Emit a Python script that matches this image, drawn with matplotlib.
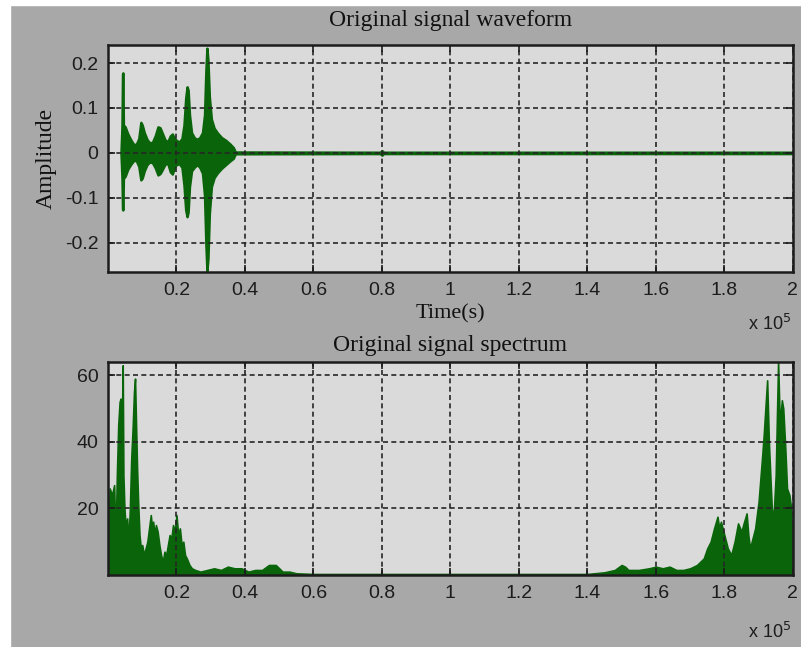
import matplotlib
matplotlib.use('Agg')
from matplotlib import pyplot as plt
from matplotlib.patches import Rectangle

# waveform envelope (time in units of 1e5 samples)
wave_t = [0.038, 0.041, 0.0425, 0.0435, 0.045, 0.050, 0.058, 0.066, 0.074, 0.082,
          0.090, 0.096, 0.100, 0.106, 0.114, 0.122, 0.130, 0.138, 0.146, 0.152,
          0.158, 0.166, 0.174, 0.182, 0.188, 0.194, 0.200, 0.208, 0.216, 0.222,
          0.227, 0.231, 0.234, 0.238, 0.244, 0.252, 0.260, 0.268, 0.276, 0.282,
          0.286, 0.289, 0.292, 0.296, 0.302, 0.310, 0.320, 0.332, 0.344, 0.356,
          0.366, 0.372, 0.795, 0.800, 0.805, 2.000]
wave_hi = [0.0, 0.062, 0.175, 0.178, 0.062, 0.058, 0.042, 0.030, 0.020, 0.018,
           0.032, 0.068, 0.062, 0.045, 0.030, 0.022, 0.024, 0.038, 0.058, 0.056,
           0.045, 0.030, 0.024, 0.038, 0.042, 0.032, 0.028, 0.024, 0.032, 0.062,
           0.122, 0.147, 0.140, 0.085, 0.045, 0.034, 0.030, 0.034, 0.045, 0.085,
           0.185, 0.233, 0.205, 0.125, 0.075, 0.055, 0.044, 0.034, 0.028, 0.020,
           0.012, 0.002, 0.0015, 0.005, 0.0015, 0.0015]
wave_lo = [0.0, -0.057, -0.125, -0.127, -0.057, -0.052, -0.036, -0.026, -0.018, -0.016,
           -0.030, -0.060, -0.056, -0.040, -0.026, -0.020, -0.022, -0.033, -0.049, -0.046,
           -0.038, -0.026, -0.022, -0.042, -0.047, -0.032, -0.026, -0.024, -0.032, -0.072,
           -0.127, -0.142, -0.132, -0.075, -0.040, -0.032, -0.026, -0.032, -0.045, -0.095,
           -0.205, -0.262, -0.235, -0.135, -0.075, -0.055, -0.044, -0.034, -0.026, -0.018,
           -0.012, -0.002, -0.0015, -0.005, -0.0015, -0.0015]

# spectrum magnitude, low end and mirrored high end
spec_lo_f = [0.000, 0.005, 0.012, 0.018, 0.022, 0.026, 0.030, 0.034, 0.037, 0.040,
             0.043, 0.045, 0.048, 0.052, 0.056, 0.060, 0.064, 0.068, 0.072, 0.076,
             0.079, 0.082, 0.085, 0.088, 0.092, 0.096, 0.100, 0.105, 0.110, 0.115,
             0.120, 0.125, 0.128, 0.132, 0.136, 0.140, 0.145, 0.150, 0.155, 0.160,
             0.165, 0.170, 0.175, 0.180, 0.185, 0.190, 0.195, 0.200, 0.205, 0.210,
             0.215, 0.220, 0.225, 0.230, 0.238, 0.245, 0.255, 0.270, 0.290, 0.310,
             0.330, 0.350, 0.370, 0.390, 0.410, 0.430, 0.450, 0.470, 0.490, 0.510,
             0.530, 0.550, 0.600, 1.400]
spec_lo_m = [5, 26, 24, 27, 10, 30, 45, 52, 53, 40,
             63, 30, 20, 14, 17, 10, 20, 35, 44, 55,
             59, 45, 32, 22, 12, 8, 9, 6, 8, 10,
             14, 18, 15, 16, 12, 15, 13, 9, 6, 4,
             7, 6, 9, 12, 11, 15, 13, 18, 12, 14,
             9, 10, 6, 5, 3, 2, 1.5, 1, 1.5, 2,
             1.5, 2.5, 2, 2, 1, 1.5, 1.5, 3, 3, 1,
             1, 0.5, 0.3, 0.3]
spec_hi_f = [1.400, 1.450, 1.480, 1.500, 1.510, 1.520, 1.550, 1.580, 1.600, 1.620,
             1.640, 1.660, 1.680, 1.700, 1.720, 1.740, 1.750, 1.760, 1.770, 1.780,
             1.785, 1.790, 1.800, 1.810, 1.820, 1.830, 1.840, 1.850, 1.855, 1.865,
             1.870, 1.875, 1.880, 1.890, 1.900, 1.910, 1.915, 1.925, 1.930, 1.935,
             1.940, 1.945, 1.950, 1.957, 1.962, 1.968, 1.972, 1.978, 1.983, 1.990,
             1.995, 2.000]
spec_hi_m = [0.3, 0.8, 1.5, 3, 2.5, 1.5, 1.5, 2, 2.5, 2,
             2.5, 1.5, 1.5, 2, 3, 5, 8, 10, 14, 17.5,
             14, 16, 12, 8, 6, 10, 15.5, 13, 15, 18.5,
             12, 8, 10, 14, 22, 35, 42, 58.5, 40, 28,
             17, 20, 30, 64, 45, 52.5, 50, 38, 26, 24,
             20, 5]

x_ticks = [0.2, 0.4, 0.6, 0.8, 1, 1.2, 1.4, 1.6, 1.8, 2]
x_labels = ['0.2', '0.4', '0.6', '0.8', '1', '1.2', '1.4', '1.6', '1.8', '2']
wave_ticks = [-0.2, -0.1, 0, 0.1, 0.2]
wave_labels = ['-0.2', '-0.1', '0', '0.1', '0.2']
spec_ticks = [20, 40, 60]

green = '#0a640a'
serif = 'Liberation Serif'
sans = 'Liberation Sans'


def style_axes(ax):
    ax.set_facecolor('#dadada')
    ax.grid(True, color='#262626', linestyle=(0, (3, 2)), linewidth=1.2)
    ax.set_axisbelow(False)
    for s in ax.spines.values():
        s.set_linewidth(1.8)
        s.set_color('#1c1c1c')
    ax.tick_params(direction='in', length=5, width=1.2, top=True, right=True,
                   labelsize=14, pad=7, colors='#1c1c1c')
    ax.set_xlim(0, 2)
    ax.set_xticks(x_ticks)
    ax.set_xticklabels(x_labels, family=sans)


fig = plt.figure(figsize=(8.01, 6.47), dpi=100, facecolor='#a8a8a8')
fig.patches.append(Rectangle((0, 0), 10 / 801, 1, transform=fig.transFigure,
                             color='white', zorder=-1))
fig.patches.append(Rectangle((0, 1 - 5 / 647), 1, 5 / 647, transform=fig.transFigure,
                             color='white', zorder=-1))

ax1 = fig.add_axes([0.1348, 0.5796, 0.855, 0.3508])
ax1.fill_between(wave_t, wave_lo, wave_hi, color=green, linewidth=1.8, edgecolor=green)
style_axes(ax1)
ax1.set_ylim(-0.265, 0.24)
ax1.set_yticks(wave_ticks)
ax1.set_yticklabels(wave_labels, family=sans)
ax1.set_title('Original signal waveform', fontsize=17, family=serif, pad=14, color='#111111')
ax1.set_ylabel('Amplitude', fontsize=17, family=serif, labelpad=6, color='#111111')
ax1.set_xlabel('Time(s)', fontsize=16, family=serif, labelpad=4, color='#111111')

ax2 = fig.add_axes([0.1348, 0.1113, 0.855, 0.3292])
ax2.fill_between(spec_lo_f, 0, spec_lo_m, color=green, linewidth=1.2, edgecolor=green)
ax2.fill_between(spec_hi_f, 0, spec_hi_m, color=green, linewidth=1.2, edgecolor=green)
style_axes(ax2)
ax2.set_ylim(0, 64)
ax2.set_yticks(spec_ticks)
ax2.set_yticklabels([str(v) for v in spec_ticks], family=sans)
ax2.set_title('Original signal spectrum', fontsize=17, family=serif, pad=8, color='#111111')

fig.text(748 / 801, 1 - 330 / 647, r'x 10$^5$', fontsize=13, family=sans, color='#1c1c1c')
fig.text(748 / 801, 1 - 638 / 647, r'x 10$^5$', fontsize=13, family=sans, color='#1c1c1c')

fig.savefig('out.png', dpi=100, facecolor=fig.get_facecolor())
